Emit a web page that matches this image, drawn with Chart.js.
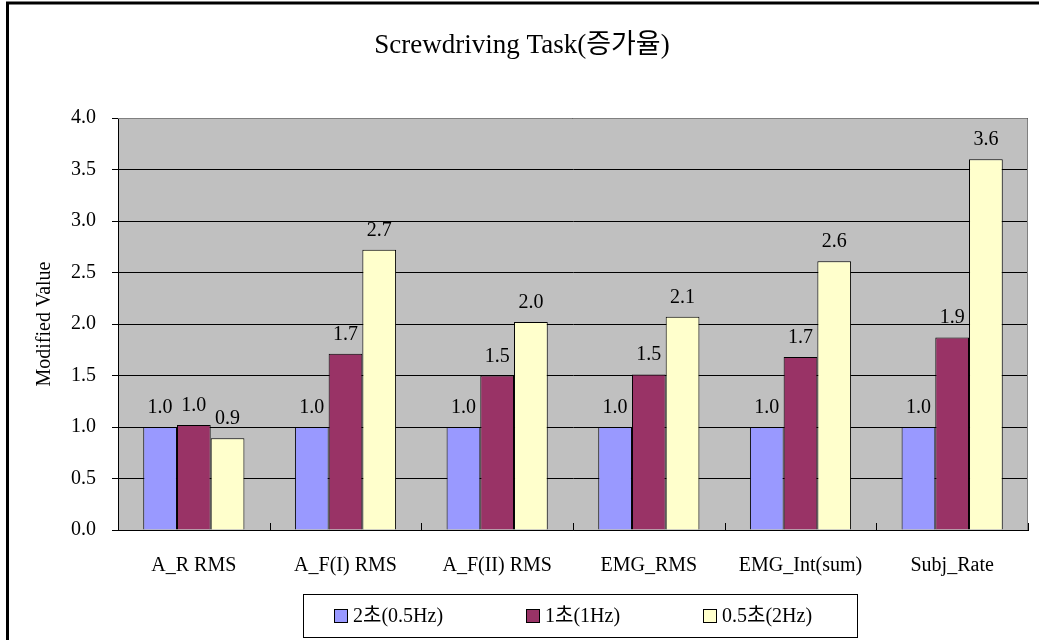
<!DOCTYPE html>
<html>
<head>
<meta charset="utf-8">
<script src="https://cdn.jsdelivr.net/npm/chart.js@4.4.1/dist/chart.umd.min.js"></script>
<style>
  html, body { margin: 0; padding: 0; background: #ffffff; overflow: hidden; }
  #wrap { width: 1039px; height: 640px; position: relative; }
</style>
</head>
<body>
<div id="wrap"><canvas id="chart" width="1039" height="640"></canvas></div>
<script>
// Measures on the x axis
const categories = ['A_R RMS', 'A_F(I) RMS', 'A_F(II) RMS', 'EMG_RMS', 'EMG_Int(sum)', 'Subj_Rate'];
// Series (pacing conditions)
const seriesNames = ['2초(0.5Hz)', '1초(1Hz)', '0.5초(2Hz)'];
const period2s  = [1.00, 1.00, 1.00, 1.00, 1.00, 1.00];
const period1s  = [1.02, 1.71, 1.50, 1.51, 1.68, 1.87];
const period05s = [0.89, 2.72, 2.02, 2.07, 2.61, 3.60];
// Value axis
const yMin = 0, yMax = 4, yStep = 0.5;
const chartTitle = 'Screwdriving Task(증가율)';
const yAxisTitle = 'Modified Value';

const FONT = "'Liberation Serif', 'Times New Roman', 'Noto Sans CJK KR', serif";
const colors = ['#9999FF', '#993366', '#FFFFCC'];

// Plot background, outer frame
const backdrop = {
  id: 'backdrop',
  beforeDraw(chart) {
    const { ctx, chartArea: a } = chart;
    ctx.save();
    ctx.fillStyle = '#C0C0C0';
    ctx.fillRect(a.left, a.top, a.right - a.left, a.bottom - a.top);
    ctx.strokeStyle = '#000';
    ctx.lineWidth = 3;
    ctx.strokeRect(7.5, 3, 1300, 1000);
    ctx.restore();
  },
  afterDraw(chart) {
    const { ctx, chartArea: a } = chart;
    ctx.save();
    // top and right edge of the plot area
    ctx.strokeStyle = '#808080';
    ctx.lineWidth = 1;
    ctx.beginPath();
    ctx.moveTo(a.left, a.top + 0.5);
    ctx.lineTo(a.right - 0.5, a.top + 0.5);
    ctx.lineTo(a.right - 0.5, a.bottom);
    ctx.stroke();
    // inward tick marks at category boundaries
    const xs = chart.scales.x;
    const step = (xs.right - xs.left) / categories.length;
    ctx.strokeStyle = '#000';
    ctx.beginPath();
    for (let i = 0; i < categories.length; i++) {
      const px = Math.round(xs.getPixelForValue(i) + step / 2) + 0.5;
      ctx.moveTo(px, a.bottom);
      ctx.lineTo(px, a.bottom - 7);
    }
    ctx.stroke();
    ctx.restore();
  }
};

// Value labels above each bar
const barLabels = {
  id: 'barLabels',
  afterDatasetsDraw(chart) {
    const { ctx } = chart;
    ctx.save();
    ctx.font = '20px ' + FONT;
    ctx.fillStyle = '#000';
    ctx.textAlign = 'center';
    ctx.textBaseline = 'alphabetic';
    chart.data.datasets.forEach((ds, di) => {
      chart.getDatasetMeta(di).data.forEach((bar, i) => {
        ctx.fillText(ds.data[i].toFixed(1), bar.x, bar.y - 14);
      });
    });
    ctx.restore();
  }
};

// Boxed legend under the plot
const boxedLegend = {
  id: 'boxedLegend',
  afterDraw(chart) {
    const { ctx } = chart;
    const boxL = 303, boxR = 857, boxT = 594, boxB = 637;
    const cy = 615.5, sw = 13, gapText = 19, gapItem = 83;
    ctx.save();
    ctx.font = '20px ' + FONT;
    ctx.strokeStyle = '#000';
    ctx.lineWidth = 1;
    ctx.strokeRect(boxL + 0.5, boxT + 0.5, boxR - boxL, boxB - boxT);
    const widths = chart.data.datasets.map(ds => ctx.measureText(ds.label).width);
    let x = boxL + 31;
    chart.data.datasets.forEach((ds, i) => {
      ctx.fillStyle = ds.backgroundColor;
      ctx.fillRect(x, Math.round(cy - sw / 2), sw, sw);
      ctx.strokeRect(x + 0.5, Math.round(cy - sw / 2) + 0.5, sw, sw);
      ctx.fillStyle = '#000';
      ctx.textAlign = 'left';
      ctx.textBaseline = 'middle';
      ctx.fillText(ds.label, x + gapText, cy + 1);
      x += Math.round(gapText + widths[i] + gapItem);
    });
    ctx.restore();
  }
};

const series = [period2s, period1s, period05s];
new Chart(document.getElementById('chart'), {
  type: 'bar',
  data: {
    labels: categories,
    datasets: series.map((vals, i) => ({
      label: seriesNames[i],
      data: vals,
      backgroundColor: colors[i],
      borderColor: '#000',
      borderWidth: 1,
      categoryPercentage: 0.667,
      barPercentage: 1.0
    }))
  },
  options: {
    responsive: false,
    animation: false,
    devicePixelRatio: 1,
    layout: { padding: { left: 16, right: 11, top: 0, bottom: 0 } },
    plugins: {
      legend: { display: false },
      tooltip: { enabled: false },
      title: {
        display: true,
        text: chartTitle,
        color: '#000',
        font: { family: FONT, size: 27, weight: 'normal' },
        padding: { top: 30, bottom: 55.6 }
      }
    },
    scales: {
      x: {
        grid: { display: false },
        border: { display: true, color: '#000', width: 1 },
        ticks: { color: '#000', font: { family: FONT, size: 20 }, padding: 16, maxRotation: 0 },
        afterFit(s) { s.height = 110; }
      },
      y: {
        min: yMin,
        max: yMax,
        grid: { color: '#000', lineWidth: 1, drawTicks: true, tickLength: 6 },
        border: { display: true, color: '#000', width: 1 },
        ticks: {
          stepSize: yStep,
          color: '#000',
          font: { family: FONT, size: 20 },
          padding: 16,
          callback: v => Number(v).toFixed(1)
        },
        title: {
          display: true,
          text: yAxisTitle,
          color: '#000',
          font: { family: FONT, size: 20 },
          padding: { top: 17, bottom: 0 }
        },
        afterFit(s) { s.width = 102; }
      }
    }
  },
  plugins: [backdrop, barLabels, boxedLegend]
});
</script>
</body>
</html>
